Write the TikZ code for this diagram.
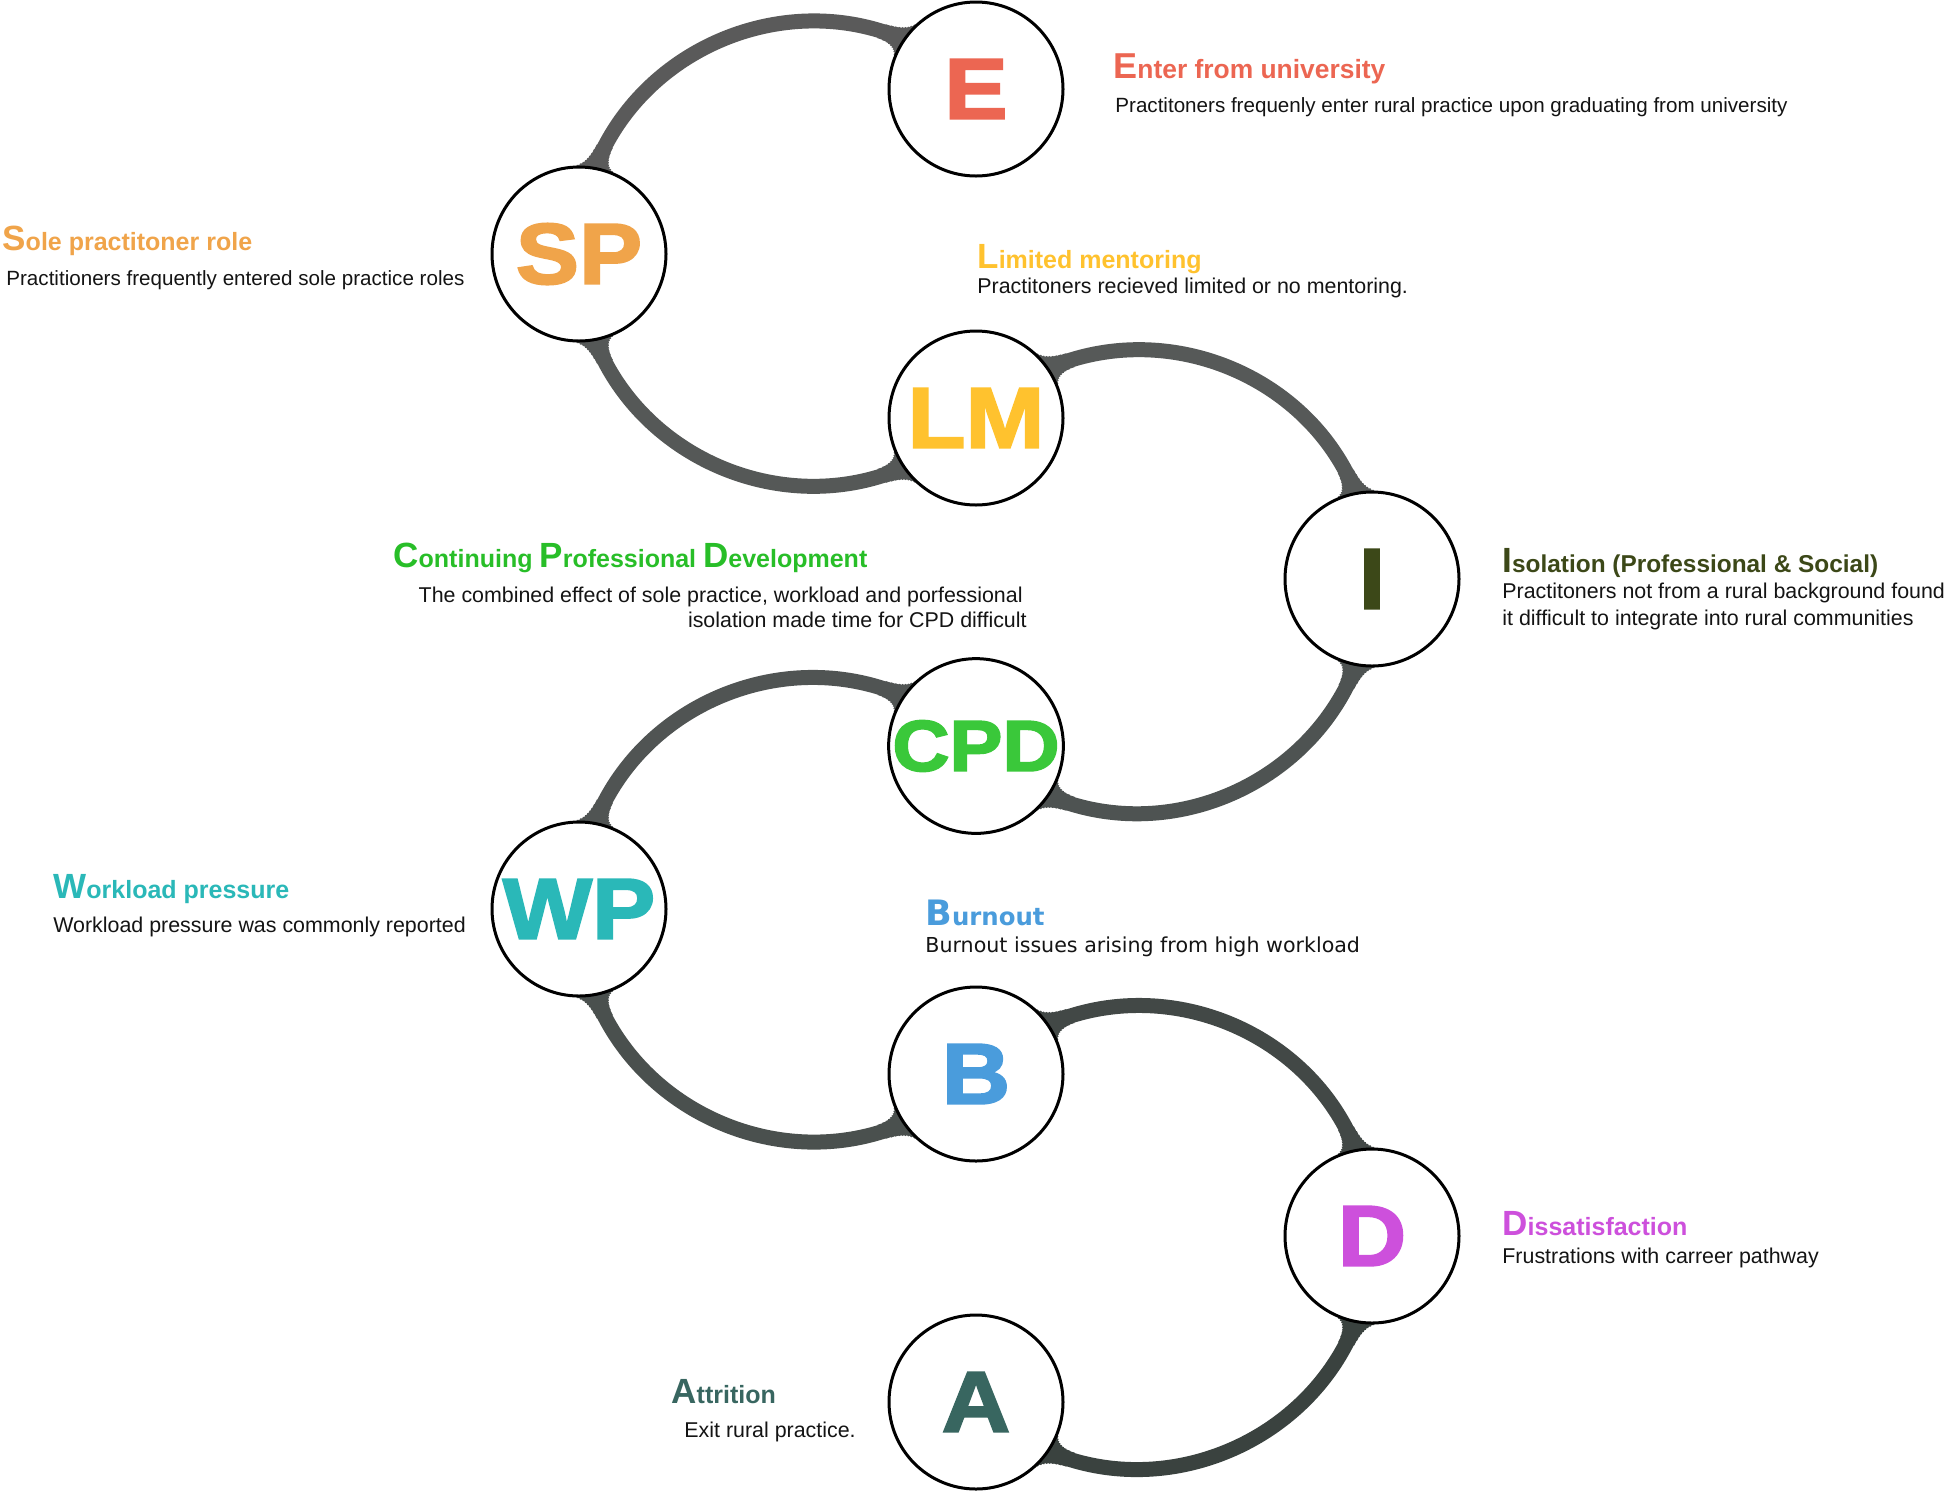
\documentclass[tikz,border=0pt]{standalone}
\usepackage{fontspec}
\setmainfont{Liberation Sans}
\newfontfamily\heavy[FakeBold=2.5,FakeStretch=1.1]{Liberation Sans Bold}
\newfontfamily\wide{DejaVu Sans}
\usetikzlibrary{backgrounds}
\definecolor{cE}{RGB}{236,102,82}
\definecolor{cSP}{RGB}{240,164,74}
\definecolor{cLM}{RGB}{255,194,46}
\definecolor{cI}{RGB}{60,72,24}
\definecolor{cCPD}{RGB}{58,200,58}
\definecolor{cCPDt}{RGB}{40,190,40}
\definecolor{cWP}{RGB}{42,184,184}
\definecolor{cB}{RGB}{74,156,220}
\definecolor{cD}{RGB}{205,80,220}
\definecolor{cA}{RGB}{56,102,96}
\definecolor{kA}{RGB}{90,90,90}
\definecolor{kB}{RGB}{85,88,87}
\definecolor{kC}{RGB}{86,89,88}
\definecolor{kD}{RGB}{78,83,82}
\definecolor{kE}{RGB}{80,84,83}
\definecolor{kF}{RGB}{74,80,78}
\definecolor{kG}{RGB}{66,72,70}
\definecolor{kH}{RGB}{58,66,63}
\newcommand\ini[1]{{\fontsize{17.5pt}{17.5pt}\selectfont #1}}
\newcommand\connset[1]{%
  \draw[conn, kA, #1] (SP.center) to[out=90,in=135,looseness=1.23] (E.center);
  \draw[conn, kB, #1] (SP.center) to[out=270,in=225,looseness=1.23] (LM.center);
  \draw[conn, kC, #1] (LM.center) to[out=45,in=90,looseness=1.23] (I.center);
  \draw[conn, kD, #1] (CPD.center) to[out=-45,in=270,looseness=1.23] (I.center);
  \draw[conn, kE, #1] (WP.center) to[out=90,in=135,looseness=1.23] (CPD.center);
  \draw[conn, kF, #1] (WP.center) to[out=270,in=225,looseness=1.23] (B.center);
  \draw[conn, kG, #1] (B.center) to[out=45,in=90,looseness=1.23] (D.center);
  \draw[conn, kH, #1] (A.center) to[out=-45,in=270,looseness=1.23] (D.center);
}
\tikzset{
  hub/.style={circle, draw=black, line width=1.5pt, fill=white, minimum size=87pt, inner sep=0pt,
    font=\heavy\fontsize{43pt}{43pt}\selectfont},
  ttl/.style={anchor=base west, inner sep=0pt, font=\bfseries\fontsize{12.5pt}{15pt}\selectfont},
  bdy/.style={anchor=base west, inner sep=0pt, font=\fontsize{10.7pt}{13pt}\selectfont, text=black!92},
  conn/.style={line width=7.5pt, line cap=butt},
}
\begin{document}
\begin{tikzpicture}[x=0.5pt,y=0.5pt]
\useasboundingbox (0,0) rectangle (1944,-1495);
% hubs
\node[hub, text=cE] (E) at (976,-89) {E};
\node[hub, text=cSP] (SP) at (579,-254) {SP};
\node[hub, text=cLM] (LM) at (976,-418) {LM};
\node[hub, text=cI] (I) at (1372,-579) {I};
\node[hub, text=cCPD, font=\heavy\fontsize{36pt}{36pt}\selectfont] (CPD) at (976,-746) {CPD};
\node[hub, text=cWP] (WP) at (579,-909) {WP};
\node[hub, text=cB] (B) at (976,-1074) {B};
\node[hub, text=cD] (D) at (1372,-1236) {D};
\node[hub, text=cA] (A) at (976,-1402) {A};
% connectors
\begin{pgfonlayer}{background}
\fill[white] (0,0) rectangle (1944,-1495);
\connset{}
\foreach \dd/\ww in {12/7.9, 9.5/8.4, 7.5/9, 6/9.8, 4.7/10.8, 3.6/12, 2.6/13.5, 1.8/15.5, 1.1/18, 0.5/21}{
  \begin{scope}
    \clip \foreach \n in {E,SP,LM,I,CPD,WP,B,D,A}{(\n.center) circle[radius={43.5pt+\dd pt}]};
    \connset{line width=\ww pt}
  \end{scope}
}
\end{pgfonlayer}
% labels
\node[ttl, text=cE, font=\bfseries\fontsize{13.2pt}{15pt}\selectfont] (tE) at (1113,-78) {{\fontsize{18pt}{18pt}\selectfont E}nter from university};
\node[bdy, font=\fontsize{10.3pt}{13pt}\selectfont] (dE) at (1115,-112) {Practitoners frequenly enter rural practice upon graduating from university};
\node[ttl, text=cSP] (tSP) at (2,-250) {\ini{S}ole practitoner role};
\node[bdy, font=\fontsize{10.3pt}{13pt}\selectfont] (dSP) at (6,-285) {Practitioners frequently entered sole practice roles};
\node[ttl, text=cLM] (tLM) at (977,-268) {\ini{L}imited mentoring};
\node[bdy] (dLM) at (977,-293) {Practitoners recieved limited or no mentoring.};
\node[ttl, text=cCPDt] (tCPD) at (393,-567) {\ini{C}ontinuing \ini{P}rofessional \ini{D}evelopment};
\node[bdy, anchor=base east] (dCPDa) at (1023,-602) {The combined effect of sole practice, workload and porfessional};
\node[bdy, anchor=base east] (dCPDb) at (1027,-627) {isolation made time for CPD difficult};
\node[ttl, text=cI, font=\bfseries\fontsize{12.2pt}{15pt}\selectfont] (tI) at (1502,-572) {\ini{I}solation (Professional \& Social)};
\node[bdy] (dIa) at (1502,-598) {Practitoners not from a rural background found};
\node[bdy] (dIb) at (1502,-625) {it difficult to integrate into rural communities};
\node[ttl, text=cWP] (tWP) at (53,-898) {\ini{W}orkload pressure};
\node[bdy] (dWP) at (53,-932) {Workload pressure was commonly reported};
\node[ttl, text=cB, font=\wide\bfseries\fontsize{12.2pt}{15pt}\selectfont] (tB) at (925,-925) {\ini{B}urnout};
\node[bdy, font=\wide\fontsize{10.3pt}{13pt}\selectfont] (dB) at (925,-952) {Burnout issues arising from high workload};
\node[ttl, text=cD] (tD) at (1502,-1235) {\ini{D}issatisfaction};
\node[bdy] (dD) at (1502,-1263) {Frustrations with carreer pathway};
\node[ttl, text=cA] (tA) at (671,-1403) {\ini{A}ttrition};
\node[bdy] (dA) at (684,-1437) {Exit rural practice.};
\end{tikzpicture}
\end{document}
